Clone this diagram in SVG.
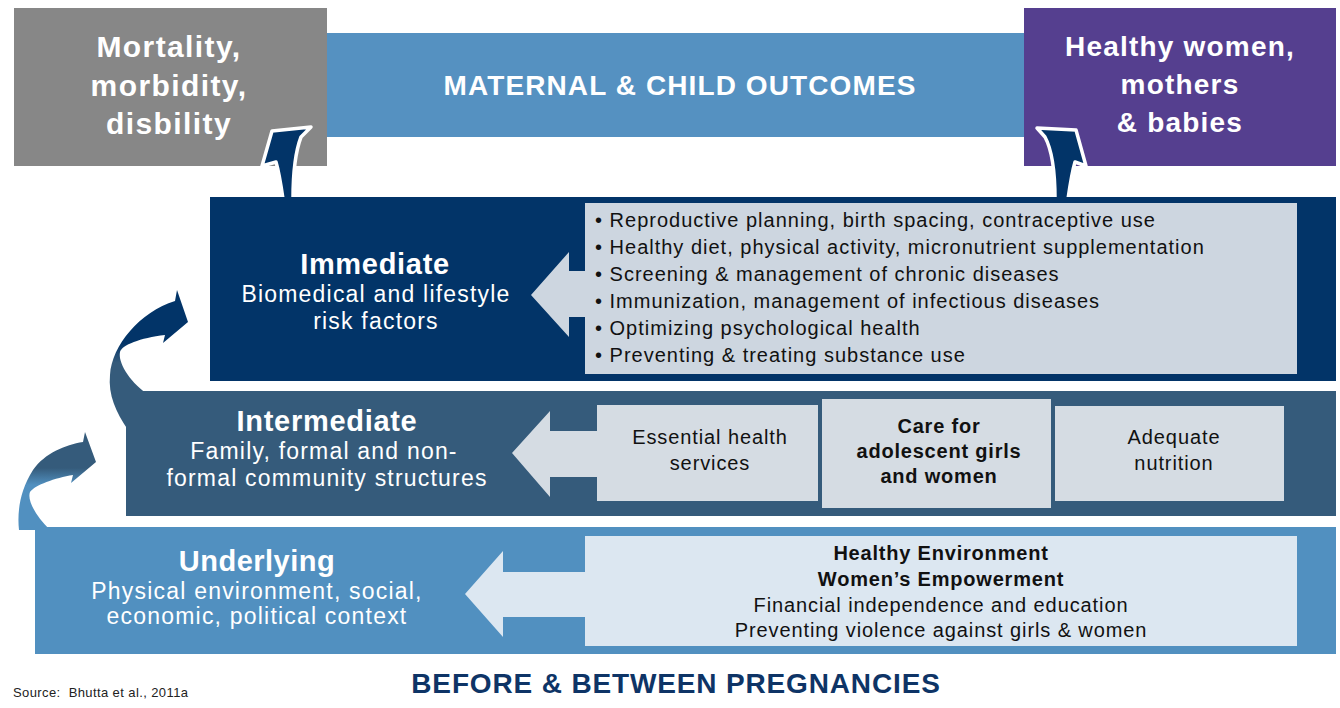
<svg xmlns="http://www.w3.org/2000/svg" width="1340" height="708" viewBox="0 0 1340 708">
<style>
text{font-family:"Liberation Sans",Arial,sans-serif}
.w{fill:#fff}
.k{fill:#111}
.b{font-weight:bold}
.c{text-anchor:middle}
.top{font-size:30px;font-weight:bold;fill:#fff;text-anchor:middle;letter-spacing:1.4px}
.top2{font-size:28px;font-weight:bold;fill:#fff;text-anchor:middle;letter-spacing:1.2px}
.ttl{font-size:29px;font-weight:bold;fill:#fff;text-anchor:middle;letter-spacing:0.7px}
.sub{font-size:23px;fill:#fff;text-anchor:middle;letter-spacing:1.2px}
.bul{font-size:20px;fill:#111;letter-spacing:1px}
.box{font-size:20px;fill:#111;text-anchor:middle;letter-spacing:0.9px}
.boxb{font-size:20px;fill:#111;text-anchor:middle;letter-spacing:0.8px;font-weight:bold}
</style>
<defs>
<linearGradient id="gUp" x1="0" y1="290" x2="0" y2="430" gradientUnits="userSpaceOnUse">
<stop offset="0" stop-color="#023468"/>
<stop offset="0.38" stop-color="#023468"/>
<stop offset="0.52" stop-color="#355B7B"/>
<stop offset="1" stop-color="#355B7B"/>
</linearGradient>
<linearGradient id="gLow" x1="0" y1="430" x2="0" y2="530" gradientUnits="userSpaceOnUse">
<stop offset="0" stop-color="#355B7B"/>
<stop offset="0.38" stop-color="#355B7B"/>
<stop offset="0.55" stop-color="#5190C0"/>
<stop offset="1" stop-color="#5190C0"/>
</linearGradient>
</defs>

<g id="outcomes-bar">
<rect x="300" y="33" width="760" height="104" fill="#5591C1"/>
<text class="top2" x="680" y="95" style="letter-spacing:1.1px">MATERNAL &amp; CHILD OUTCOMES</text>
</g>
<g id="mortality">
<rect x="14" y="8" width="313" height="158" fill="#878787"/>
<text class="top" x="169" y="57">Mortality,</text>
<text class="top" x="169" y="96">morbidity,</text>
<text class="top" x="169" y="134">disbility</text>
</g>
<g id="healthy">
<rect x="1024" y="8" width="312" height="158" fill="#553F8F"/>
<text class="top2" x="1180" y="56">Healthy women,</text>
<text class="top2" x="1180" y="94">mothers</text>
<text class="top2" x="1180" y="132">&amp; babies</text>
</g>

<g id="connectors">
<path d="M283,199 C281,185 279,172 276,162 L262,166 L272,131 L311,127 L301,137 C296,150 293,170 293,199 Z" fill="#023468" stroke="#fff" stroke-width="3.5" stroke-linejoin="round"/>
<path d="M1068,199 C1070,185 1072,172 1075,162 L1086,166 L1076,130 L1037,128 L1045,137 C1052,150 1055,170 1055,199 Z" fill="#023468" stroke="#fff" stroke-width="3.5" stroke-linejoin="round"/>
<path d="M128,430 C116,412 108,395 110,375 C112,345 140,312 175,301 L177,290 L188,322 L163,343 L165,335 C140,338 122,345 120,352 C118,362 128,380 147,394 Z" fill="url(#gUp)"/>
<path d="M19,530 C17,512 20,490 33,470 C45,453 65,445 83,442 L85,432 L96,462 L71,483 L73,475 C55,478 35,485 30,492 C27,500 35,515 50,530 Z" fill="url(#gLow)"/>
</g>

<g id="immediate">
<rect x="210" y="197" width="1126" height="184" fill="#023468"/>
<rect x="585" y="203" width="712" height="171" fill="#CDD6E0"/>
<polygon points="531,295 569,252 569,271 590,271 590,317 569,317 569,337" fill="#CDD6E0"/>
<text class="ttl" x="375" y="274">Immediate</text>
<text class="sub" x="376" y="302">Biomedical and lifestyle</text>
<text class="sub" x="376" y="329">risk factors</text>
<text class="bul" x="595" y="227">• Reproductive planning, birth spacing, contraceptive use</text>
<text class="bul" x="595" y="254">• Healthy diet, physical activity, micronutrient supplementation</text>
<text class="bul" x="595" y="281">• Screening &amp; management of chronic diseases</text>
<text class="bul" x="595" y="308">• Immunization, management of infectious diseases</text>
<text class="bul" x="595" y="335">• Optimizing psychological health</text>
<text class="bul" x="595" y="362">• Preventing &amp; treating substance use</text>
</g>

<g id="intermediate">
<rect x="126" y="391" width="1210" height="125" fill="#355B7B"/>
<polygon points="512,453 550,411 550,431 600,431 600,477 550,477 550,497" fill="#D5DCE3"/>
<rect x="597" y="405" width="221" height="96" fill="#D5DCE3"/>
<rect x="822" y="399" width="229" height="109" fill="#D5DCE3"/>
<rect x="1055" y="406" width="229" height="95" fill="#D5DCE3"/>
<text class="ttl" x="327" y="431">Intermediate</text>
<text class="sub" x="324" y="459">Family, formal and non-</text>
<text class="sub" x="327" y="486">formal community structures</text>
<text class="box" x="710" y="444">Essential health</text>
<text class="box" x="710" y="470">services</text>
<text class="boxb" x="939" y="433">Care for</text>
<text class="boxb" x="939" y="458">adolescent girls</text>
<text class="boxb" x="939" y="483">and women</text>
<text class="box" x="1174" y="444">Adequate</text>
<text class="box" x="1174" y="470">nutrition</text>
</g>

<g id="underlying">
<rect x="35" y="527" width="1301" height="127" fill="#5190C0"/>
<rect x="585" y="536" width="712" height="110" fill="#DCE7F1"/>
<polygon points="465,594 503,551 503,572 590,572 590,617 503,617 503,637" fill="#DCE7F1"/>
<text class="ttl" x="257" y="571" style="letter-spacing:0.5px">Underlying</text>
<text class="sub" x="257" y="599">Physical environment, social,</text>
<text class="sub" x="257" y="624">economic, political context</text>
<text class="boxb" x="941" y="560">Healthy Environment</text>
<text class="boxb" x="941" y="586">Women’s Empowerment</text>
<text class="box" x="941" y="612">Financial independence and education</text>
<text class="box" x="941" y="637">Preventing violence against girls &amp; women</text>
</g>

<g id="footer">
<text class="b c" x="676" y="693" style="font-size:28px;fill:#0E3466;letter-spacing:0.85px">BEFORE &amp; BETWEEN PREGNANCIES</text>
<text x="13" y="697" style="font-size:13px;fill:#222;letter-spacing:0.4px">Source:&#160; Bhutta et al., 2011a</text>
</g>
</svg>
